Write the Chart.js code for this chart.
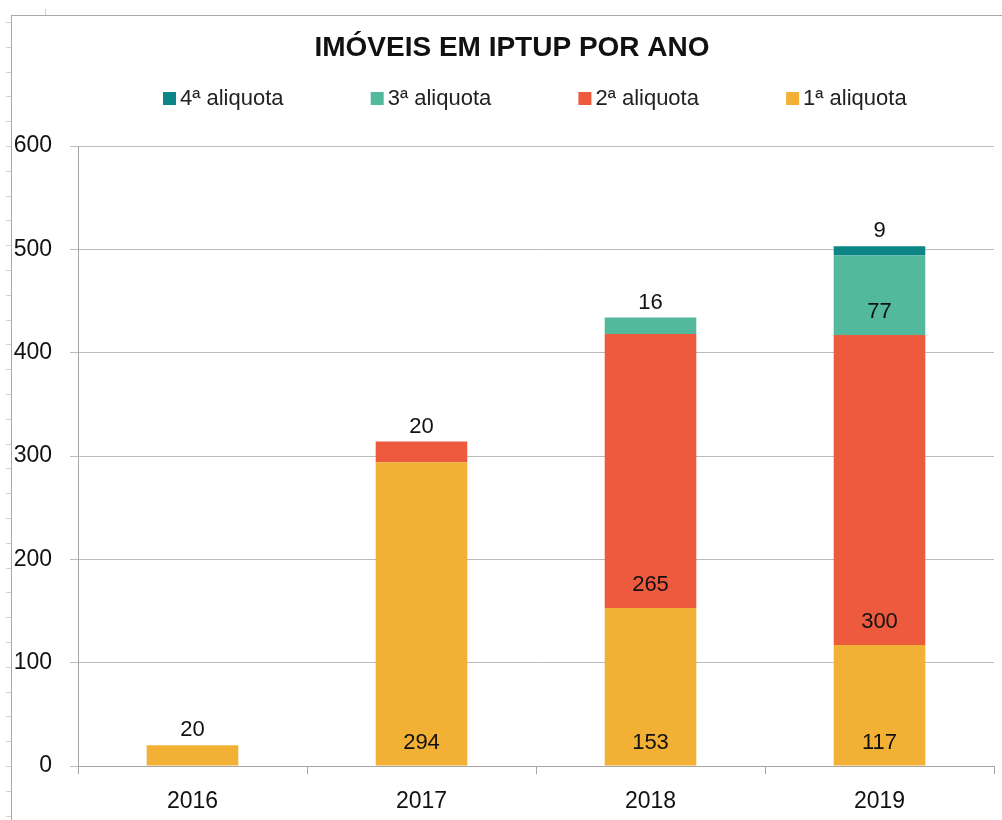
<!DOCTYPE html>
<html>
<head>
<meta charset="utf-8">
<script src="https://cdn.jsdelivr.net/npm/chart.js@4"></script>
<style>
  html, body { margin: 0; padding: 0; background: #fff; }
  #wrap { position: relative; width: 1002px; height: 820px; overflow: hidden; }
  #frame { position: absolute; left: 11px; top: 15px; width: 1100px; height: 900px;
           border-left: 1px solid #a8a8a8; border-top: 1px solid #a8a8a8; }
  .tk { position: absolute; background: #d0d0d0; }
  canvas { position: absolute; left: 0; top: 0; }
</style>
</head>
<body>
<div id="wrap">
  <div id="frame"></div>
  <canvas id="c" width="1002" height="820"></canvas>
</div>
<script>
const categories = ["2016", "2017", "2018", "2019"];
const aliquota1 = [20, 294, 153, 117];
const aliquota2 = [null, 20, 265, 300];
const aliquota3 = [null, null, 16, 77];
const aliquota4 = [null, null, null, 9];
const seriesNames = ["1ª aliquota", "2ª aliquota", "3ª aliquota", "4ª aliquota"];
const seriesColors = ["#f2b035", "#ee5a3e", "#52b99c", "#0b8585"];
const yTicks = [0, 100, 200, 300, 400, 500, 600];
const chartTitle = "IMÓVEIS EM IPTUP POR ANO";

const FONT = '"Liberation Sans", Arial, sans-serif';

// spreadsheet edge marks
const wrap = document.getElementById('wrap');
for (let k = 0; k < 33; k++) {
  const d = document.createElement('div');
  d.className = 'tk';
  d.style.left = '6px'; d.style.top = (22 + k * 24.8) + 'px';
  d.style.width = '5px'; d.style.height = '1px';
  wrap.appendChild(d);
}
(function () {
  const d = document.createElement('div');
  d.className = 'tk';
  d.style.left = '45px'; d.style.top = '9px';
  d.style.width = '1px'; d.style.height = '6px';
  wrap.appendChild(d);
})();

const overlay = {
  id: 'overlay',
  afterDatasetsDraw(chart) {
    const ctx = chart.ctx;
    ctx.save();
    // data labels
    ctx.fillStyle = '#111';
    ctx.font = '22px ' + FONT;
    ctx.textAlign = 'center';
    ctx.textBaseline = 'middle';
    chart.data.datasets.forEach((ds, di) => {
      const meta = chart.getDatasetMeta(di);
      meta.data.forEach((el, i) => {
        const v = ds.data[i];
        if (v === null || v === undefined) return;
        const h = el.base - el.y;
        const y = h > 45 ? el.base - 23 : el.y - 15;
        ctx.fillText(String(v), el.x, y);
      });
    });
    // title
    ctx.fillStyle = '#111';
    ctx.font = 'bold 28px ' + FONT;
    ctx.fillText(chartTitle, 512, 48);
    // legend (reverse order)
    ctx.font = '22px ' + FONT;
    ctx.textAlign = 'left';
    for (let j = 0; j < 4; j++) {
      const idx = 3 - j;
      const x0 = 163 + j * 207.7;
      ctx.fillStyle = seriesColors[idx];
      ctx.fillRect(x0, 92, 13, 13);
      ctx.fillStyle = '#222';
      ctx.fillText(seriesNames[idx], x0 + 17, 99);
    }
    ctx.restore();
  }
};

new Chart(document.getElementById('c'), {
  type: 'bar',
  data: {
    labels: categories,
    datasets: [aliquota1, aliquota2, aliquota3, aliquota4].map((d, i) => ({
      label: seriesNames[i],
      data: d,
      backgroundColor: seriesColors[i],
      borderWidth: 0,
      categoryPercentage: 1.0,
      barPercentage: 0.4
    }))
  },
  options: {
    responsive: false,
    animation: false,
    layout: { padding: { top: 146, right: 8, bottom: 0, left: 0 } },
    plugins: { legend: { display: false }, title: { display: false }, tooltip: { enabled: false } },
    scales: {
      x: {
        stacked: true,
        afterFit: s => { s.height = 54; },
        grid: { display: true, drawOnChartArea: false, drawTicks: true, tickLength: 8, color: '#a6a6a6', offset: true },
        border: { display: true, color: '#a6a6a6' },
        ticks: { color: '#111', font: { family: FONT, size: 23 }, padding: 14 }
      },
      y: {
        stacked: true,
        min: 0, max: 600,
        afterFit: s => { s.width = 78; },
        afterBuildTicks: s => { s.ticks = yTicks.map(v => ({ value: v })); },
        grid: { color: '#bdbdbd', tickLength: 8, drawTicks: true },
        border: { display: true, color: '#a6a6a6' },
        ticks: { color: '#111', font: { family: FONT, size: 23 }, padding: 18 }
      }
    }
  },
  plugins: [overlay]
});
</script>
</body>
</html>
